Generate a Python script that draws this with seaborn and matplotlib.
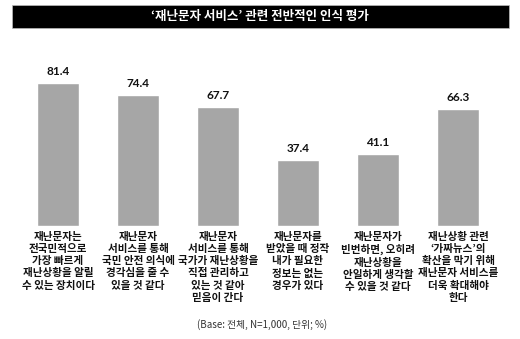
import matplotlib
matplotlib.use("Agg")
import matplotlib.pyplot as plt
import seaborn as sns
import pandas as pd
from matplotlib.patches import Rectangle

categories = [
    "재난문자는\n전국민적으로\n가장 빠르게\n재난상황을 알릴\n수 있는 장치이다",
    "재난문자\n서비스를 통해\n국민 안전 의식에\n경각심을 줄 수\n있을 것 같다",
    "재난문자\n서비스를 통해\n국가가 재난상황을\n직접 관리하고\n있는 것 같아\n믿음이 간다",
    "재난문자를\n받았을 때 정작\n내가 필요한\n정보는 없는\n경우가 있다",
    "재난문자가\n빈번하면, 오히려\n재난상황을\n안일하게 생각할\n수 있을 것 같다",
    "재난상황 관련\n‘가짜뉴스’의\n확산을 막기 위해\n재난문자 서비스를\n더욱 확대해야\n한다",
]
values = [81.4, 74.4, 67.7, 37.4, 41.1, 66.3]
title = "‘재난문자 서비스’ 관련 전반적인 인식 평가"
footnote = "(Base: 전체, N=1,000, 단위; %)"

sns.set_theme(style="white")
plt.rcParams['font.family'] = ['Noto Sans CJK KR', 'DejaVu Sans']

W, H = 520, 339
fig = plt.figure(figsize=(W / 100, H / 100), dpi=100)
# axes: x from -0.6..5.6 maps to px 10..506, y 0..100 maps to px 226..50
ax = fig.add_axes([10 / W, (H - 226) / H, 496 / W, 176 / H])

df = pd.DataFrame({"cat": categories, "val": values})
sns.barplot(data=df, x="cat", y="val", color="#a6a6a6", width=0.525,
            saturation=1, ax=ax)
ax.set_xlim(-0.6, 5.6)
ax.set_ylim(0, 100)
for s in ax.spines.values():
    s.set_visible(False)
ax.set_yticks([])
ax.set_xlabel("")
ax.set_ylabel("")
ax.tick_params(axis="x", length=0, pad=4)
for lbl in ax.get_xticklabels():
    lbl.set_fontsize(7.6)
    lbl.set_fontweight("bold")
    lbl.set_linespacing(1.28)
    lbl.set_color("#111111")

for i, v in enumerate(values):
    ax.text(i, v + 3.5, f"{v:.1f}", ha="center", va="bottom",
            fontsize=8.5, fontweight="bold", color="#111111",
            family=["Lato", "DejaVu Sans"])

# title bar
fig.patches.append(Rectangle((12 / W, 1 - 28 / H), 497 / W, 23 / H,
                             transform=fig.transFigure, facecolor="black",
                             edgecolor="#bbbbbb", linewidth=0.5))
fig.text(260 / W, 1 - 16.5 / H, title, ha="center", va="center",
         color="white", fontsize=9, fontweight="bold")

fig.text(262 / W, 1 - 325 / H, footnote, ha="center", va="center",
         fontsize=7, color="#333333")

fig.savefig("out.png", dpi=100)
